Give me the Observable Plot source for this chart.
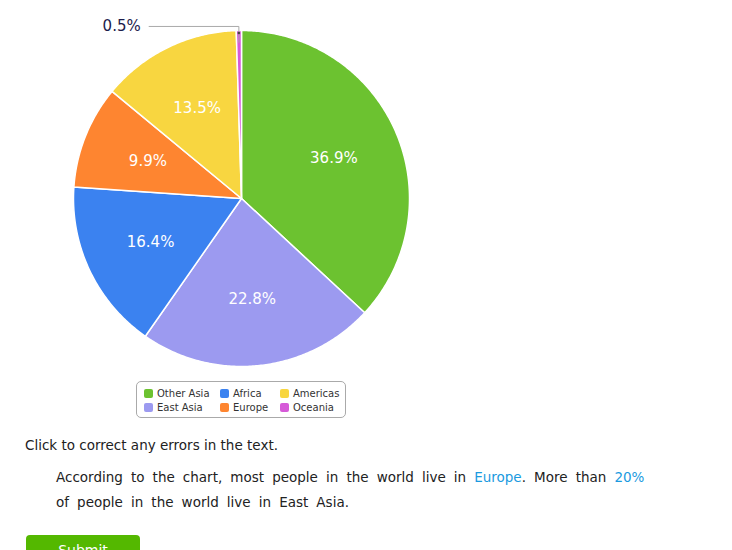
<!DOCTYPE html>
<html>
<head>
<meta charset="utf-8">
<script src="https://cdn.jsdelivr.net/npm/d3@7"></script>
<script src="https://cdn.jsdelivr.net/npm/@observablehq/plot@0.6"></script>
<style>
  body { margin: 0; background: #fff; font-family: "DejaVu Sans", Verdana, sans-serif; color: #222; }
  #chart { width: 482px; }
  #chart svg { display: block; }
  .legend { margin: 5px 0 0 136px; width: 201px; height: 31px; border: 1px solid #aaa; border-radius: 5px;
    display: grid; grid-template-rows: 14px 14px; grid-auto-flow: column; grid-template-columns: 76px 60px 64px;
    padding: 4px 0 0 7px; box-sizing: content-box; font-size: 10px; color: #333; }
  .legend .item { display: flex; align-items: center; white-space: nowrap; }
  .legend .sw { width: 9px; height: 9px; border-radius: 2px; margin-right: 4px; }
  .prompt { font-size: 13.5px; margin: 19px 0 0 25px; }
  .para { font-size: 13.5px; margin: 12px 0 0 56px; width: 600px; line-height: 25px; word-spacing: 3.8px; }
  .para .hl { color: #1a9ae0; }
  .btn { margin: 20px 0 0 26px; width: 114px; height: 32px; background: #54b800; color: #fff; border-radius: 4px;
    font-size: 14px; text-align: center; line-height: 30px; }
</style>
</head>
<body>
<div id="chart"></div>
<div class="prompt">Click to correct any errors in the text.</div>
<div class="para">According to the chart, most people in the world live in <span class="hl">Europe</span>. More than <span class="hl">20%</span><br>of people in the world live in East Asia.</div>
<div class="btn">Submit</div>
<script>
const categories = ["Other Asia", "East Asia", "Africa", "Europe", "Americas", "Oceania"];
const shares = [36.9, 22.8, 16.4, 9.9, 13.5, 0.5];
const colors = ["#6cc230", "#9c9af0", "#3b82f0", "#fe8530", "#f8d640", "#d65ad8"];
const labels = ["36.9%", "22.8%", "16.4%", "9.9%", "13.5%", "0.5%"];

const data = categories.map((name, i) => ({name, share: shares[i], label: labels[i]}));
const arcs = d3.pie().sort(null).value(d => d.share)(data);

// wedge outlines
const points = [];
for (const a of arcs) {
  const n = Math.max(2, Math.ceil((a.endAngle - a.startAngle) / 0.01));
  points.push({name: a.data.name, x: 0, y: 0});
  for (let k = 0; k <= n; k++) {
    const t = a.startAngle + (a.endAngle - a.startAngle) * k / n;
    points.push({name: a.data.name, x: Math.sin(t), y: Math.cos(t)});
  }
  points.push({name: a.data.name, x: 0, y: 0});
}

const labelR = 0.6;
const inside = arcs.filter(a => a.data.share >= 1).map(a => {
  const m = (a.startAngle + a.endAngle) / 2;
  return {label: a.data.label, x: labelR * Math.sin(m), y: labelR * Math.cos(m)};
});
const outside = arcs.filter(a => a.data.share < 1).map(a => {
  const m = (a.startAngle + a.endAngle) / 2;
  return {label: a.data.label, mx: Math.sin(m), my: Math.cos(m)};
});
const lineY = 1.024;
const connectors = outside.flatMap((o, i) => [
  {id: i, x: -0.55, y: lineY},
  {id: i, x: o.mx, y: lineY},
  {id: i, x: o.mx, y: o.my * 0.93}
]);

const plot = Plot.plot({
  width: 482,
  height: 376,
  marginLeft: 73, marginRight: 73, marginTop: 30, marginBottom: 10,
  x: {domain: [-1, 1], axis: null},
  y: {domain: [-1, 1], axis: null},
  color: {domain: categories, range: colors},
  style: {fontFamily: "DejaVu Sans, Verdana, sans-serif", background: "white"},
  marks: [
    Plot.line(points, {x: "x", y: "y", z: "name", fill: "name", stroke: "white", strokeWidth: 1.5, strokeLinejoin: "round"}),
    Plot.text(inside, {x: "x", y: "y", text: "label", fill: "white", fontSize: 15}),
    Plot.line(connectors, {x: "x", y: "y", z: "id", stroke: "#aaa", strokeWidth: 1}),
    Plot.dot(outside, {x: "mx", y: d => d.my * 0.985, r: 1.3, fill: "#444"}),
    Plot.text(outside, {x: () => -0.6, y: () => lineY, text: "label", textAnchor: "end", fill: "#1c1c4c", fontSize: 15})
  ]
});
document.getElementById("chart").append(plot);

// legend (column-major, 2 rows)
const legend = document.createElement("div");
legend.className = "legend";
categories.forEach((c, i) => {
  const item = document.createElement("div");
  item.className = "item";
  const sw = document.createElement("span");
  sw.className = "sw";
  sw.style.background = colors[i];
  item.append(sw, document.createTextNode(c));
  legend.append(item);
});
document.getElementById("chart").append(legend);
</script>
</body>
</html>
